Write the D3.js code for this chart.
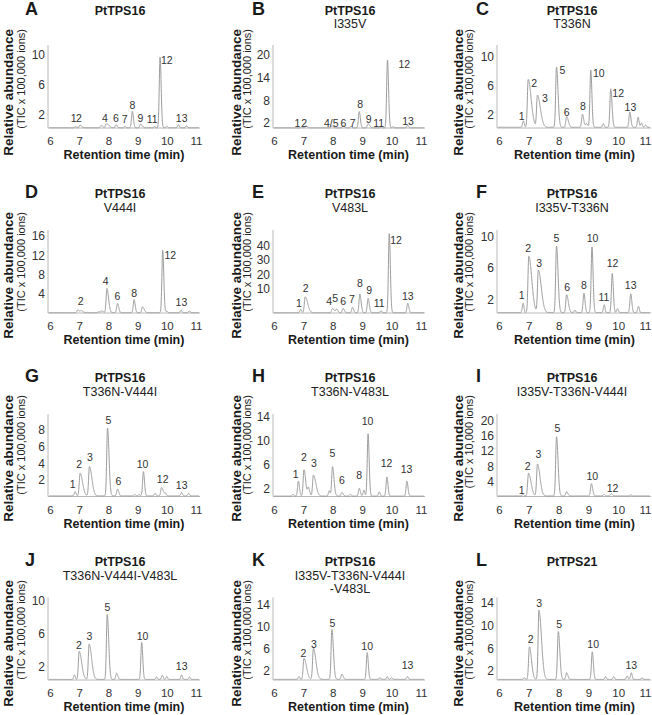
<!DOCTYPE html>
<html><head><meta charset="utf-8">
<script src="https://cdn.jsdelivr.net/npm/d3@7"></script>
<style>
body{margin:0;background:#fff;}
svg text{font-family:"Liberation Sans",Arial,Helvetica,sans-serif;}
</style></head><body>
<svg id="chart" width="652" height="715"></svg>
<script>
// ---------------- DATA ----------------
const panelLetters = ["A","B","C","D","E","F","G","H","I","J","K","L"];
const panelTitles = ["PtTPS16","PtTPS16","PtTPS16","PtTPS16","PtTPS16","PtTPS16","PtTPS16","PtTPS16","PtTPS16","PtTPS16","PtTPS16","PtTPS21"];
const panelSubtitles = [[],["I335V"],["T336N"],["V444I"],["V483L"],["I335V-T336N"],["T336N-V444I"],["T336N-V483L"],["I335V-T336N-V444I"],["T336N-V444I-V483L"],["I335V-T336N-V444I","-V483L"],[]];
const yTitle = "Relative abundance";
const yUnits = ["(TIC x 100,000 ions)","(TIC x 100,000 ions)","(TIC x 100,000 ions)","(TIC x 100,000 ions)","(TIC x 100,000 ions)","(TIC x 100,000 ions)","(TIC x 100,000 ions)","(TIC x 100,000 ions)","(TIC x 10,000 ions)","(TIC x 100,000 ions)","(TIC x 100,000 ions)","(TIC x 100,000 ions)"];
const xTitle = "Retention time (min)";
const xDomain = [6, 11];
const xTicks = [6, 7, 8, 9, 10, 11];
const yTicks = [[2,6,10],[2,8,14,20],[2,6,10],[4,8,12,16],[10,20,30,40],[2,6,10],[2,4,6,8],[2,6,10,14],[4,8,12,16,20],[2,6,10],[2,6,10,14],[2,6,10,14]];
const yDomains = [[0.27,11.3],[0.66,22.6],[0.2,11.65],[0.08,17.2],[-7.5,51.3],[0.25,10.85],[0.02,9.9],[0.63,14.4],[0.16,21.6],[0.38,10.4],[0.33,15.2],[0.35,15.0]];
const baselines = [0.3,0.7,0.3,0.15,-7.3,0.3,0.1,0.7,0.3,0.45,0.45,0.45];

// peaks: [retention time (min), height above baseline, tailing factor]
const peaksA = [[6.88,0.15,1],[7.03,0.35,2],[7.75,0.3,2],[7.93,0.55,3],[8.26,0.4,1.5],[8.57,0.2,1],[8.82,2.2,1.3],[9.1,0.5,2],[9.58,0.15,1],[9.77,9.4,1.3],[10.0,0.2,1],[10.4,0.4,1],[10.68,0.25,1]];
const peaksB = [[6.95,0.3,1],[7.08,0.5,2],[7.97,0.5,2],[8.35,0.6,1.5],[8.62,0.45,1],[8.9,4.3,1.3],[9.2,1.0,2],[9.65,0.3,1],[9.86,17.9,1.3],[10.05,0.3,1],[10.55,0.7,1]];
const peaksC = [[6.82,0.9,1],[6.98,6.6,3.5],[7.29,4.4,3.5],[7.93,8.3,1.8],[8.27,1.5,2],[8.8,1.8,1.5],[8.93,0.5,1.5],[9.08,7.9,1.3],[9.5,0.5,1],[9.75,5.3,1.5],[10.39,2.1,1.3],[10.67,1.4,1],[10.78,0.6,1],[10.92,0.3,1]];
const peaksD = [[6.95,0.55,2],[7.07,0.4,2],[7.68,0.2,1],[7.78,0.4,1.5],[7.95,5.0,2],[8.31,1.9,1.5],[8.88,2.7,1.3],[9.17,1.2,2],[9.86,12.9,1.3],[10.0,0.3,1],[10.49,0.5,1],[10.77,0.35,1]];
const peaksE = [[6.91,2.4,1],[7.06,11.3,3],[7.99,3.0,2],[8.13,2.5,1.5],[8.35,3.1,1.5],[8.67,3.8,1.3],[8.92,13.3,1.5],[9.2,10.2,1.5],[9.64,1.4,1],[9.92,56,1.3],[10.55,6.7,1.3]];
const peaksF = [[6.81,1.2,1],[7.0,7.2,3.5],[7.32,5.4,3.5],[7.93,8.5,1.8],[8.27,2.3,2],[8.55,0.3,1],[8.85,2.5,1.3],[9.12,8.4,1.3],[9.53,1.0,1],[9.8,5.0,1.3],[9.98,0.5,1],[10.42,2.4,1.3],[10.68,0.8,1]];
const peaksG = [[6.86,0.5,1],[7.03,2.7,3],[7.35,3.5,3],[7.97,8.1,1.8],[8.31,0.8,1.5],[8.9,0.15,1],[9.05,0.15,1],[9.2,2.9,1.3],[9.6,0.3,1],[9.82,1.0,2],[9.95,0.3,1],[10.51,0.4,1],[10.75,0.3,1]];
const peaksH = [[6.65,0.3,1],[6.83,2.5,1.3],[7.02,4.4,2],[7.17,1.4,1.5],[7.34,3.5,3],[7.88,0.9,1],[7.99,4.9,1.8],[8.31,0.6,1.5],[8.6,0.3,1],[8.9,1.3,1.3],[9.06,1.0,1],[9.2,10.4,1.3],[9.58,0.7,1],[9.84,3.2,1.3],[10.52,2.5,1.3]];
const peaksI = [[6.81,0.4,1],[6.99,5.9,3],[7.29,8.3,3],[7.93,15.4,1.8],[8.27,1.1,1.5],[9.1,3.2,1.5],[9.53,0.4,1],[9.77,0.6,1.5],[10.42,0.3,1]];
const peaksJ = [[6.84,0.55,1],[7.0,3.4,3],[7.34,4.3,3],[7.96,7.9,1.8],[8.28,0.75,1.5],[9.14,4.5,1.3],[9.65,0.3,1],[9.85,0.5,1],[10.0,0.35,1],[10.51,0.55,1],[10.78,0.3,1]];
const peaksK = [[6.85,0.5,1],[7.02,3.8,3],[7.34,5.6,3],[7.97,9.0,1.8],[8.31,0.95,1.5],[9.17,4.8,1.3],[9.6,0.3,1],[9.85,0.5,1],[10.0,0.3,1],[10.54,0.5,1]];
const peaksL = [[6.85,0.3,1],[7.02,5.8,2.5],[7.34,12.3,3],[7.99,8.5,1.8],[8.27,1.2,1.5],[9.13,4.9,1.3],[9.58,0.5,1],[9.85,0.5,1],[10.3,0.6,1],[10.44,1.2,1],[10.8,0.3,1]];

// peak labels: [text, retention time, abundance]
const labelsA = [["1",6.81,1.1],["2",6.99,1.1],["4",7.88,1.1],["6",8.26,1.1],["7",8.56,0.9],["8",8.82,2.75],["9",9.1,1.1],["11",9.5,0.9],["12",10.0,8.8],["13",10.51,1.1]];
const labelsB = [["1",6.8,1.0],["2",7.03,1.0],["4/5",7.95,1.0],["6",8.36,1.0],["7",8.68,1.0],["8",8.93,5.9],["9",9.22,2.1],["11",9.56,1.0],["12",10.43,16.5],["13",10.56,1.5]];
const labelsC = [["1",6.76,1.3],["2",7.18,5.8],["3",7.54,3.8],["5",8.13,7.65],["6",8.27,1.9],["8",8.82,2.7],["10",9.35,7.2],["12",10.0,4.5],["13",10.41,2.55]];
const labelsD = [["2",7.05,1.7],["4",7.91,5.9],["6",8.31,2.8],["8",8.88,3.45],["12",10.12,11.2],["13",10.5,1.5]];
const labelsE = [["1",6.85,-3.5],["2",7.08,7.6],["4",7.88,-1.8],["5",8.08,0.5],["6",8.35,-1.8],["7",8.65,-0.6],["8",8.92,10.7],["9",9.24,6],["11",9.58,-3.0],["12",10.15,41.4],["13",10.55,1.7]];
const labelsF = [["1",6.76,2.0],["2",6.98,8.1],["3",7.35,6.1],["5",7.93,9.35],["6",8.29,3.1],["8",8.85,3.3],["10",9.14,9.35],["11",9.52,1.8],["12",9.81,6.1],["13",10.42,3.3]];
const labelsG = [["1",6.78,1.0],["2",7.0,3.4],["3",7.37,4.3],["5",8.0,8.7],["6",8.34,1.4],["10",9.17,3.4],["12",9.86,1.6],["13",10.51,0.9]];
const labelsH = [["1",6.74,3.8],["2",7.02,6.6],["3",7.36,5.5],["5",7.99,7.2],["6",8.31,2.7],["8",8.9,3.5],["10",9.18,12.6],["12",9.83,5.5],["13",10.51,4.6]];
const labelsI = [["1",6.76,0.8],["2",6.96,7.0],["3",7.32,10.1],["5",7.96,17.0],["10",9.13,4.4],["12",9.81,1.4]];
const labelsJ = [["2",6.99,4.1],["3",7.35,5.2],["5",7.97,8.8],["10",9.17,5.2],["13",10.51,1.6]];
const labelsK = [["2",7.0,4.5],["3",7.36,6.1],["5",7.99,9.8],["10",9.17,5.7],["13",10.54,2.25]];
const labelsL = [["2",7.06,7.0],["3",7.35,13.3],["5",8.02,9.5],["10",9.16,6.0],["13",10.44,2.25]];

const allPeaks = [peaksA,peaksB,peaksC,peaksD,peaksE,peaksF,peaksG,peaksH,peaksI,peaksJ,peaksK,peaksL];
const allLabels = [labelsA,labelsB,labelsC,labelsD,labelsE,labelsF,labelsG,labelsH,labelsI,labelsJ,labelsK,labelsL];

// ---------------- LAYOUT ----------------
const cols = [
  {axisX:48,  x6:50,  x11:196, end:200, center:120, letterX:25,  boldX:13,  regX:25, lastDx:0},
  {axisX:273, x6:274, x11:421, end:425, center:350, letterX:252, boldX:241, regX:251, lastDx:0},
  {axisX:497, x6:499, x11:648, end:651, center:572, letterX:476, boldX:463, regX:473, lastDx:-3}
];
const rows = [
  {bottom:128,   top:45,    title:15,  sub:28,  ylab:29},
  {bottom:313,   top:230,   title:198, sub:212, ylab:212},
  {bottom:496.5, top:414,   title:382, sub:396, ylab:395},
  {bottom:680,   top:597.5, title:566, sub:580, ylab:580}
];
const AXIS_COLOR = "#b8b8b8", TRACE_COLOR = "#9c9c9c", TEXT = "#1a1a1a";
const SIGMA = 0.028;

const svg = d3.select("#chart");

panelLetters.forEach((letter, i) => {
  const c = cols[i % 3], r = rows[Math.floor(i / 3)];
  const x = d3.scaleLinear().domain(xDomain).range([c.x6, c.x11]);
  const y = d3.scaleLinear().domain(yDomains[i]).range([r.bottom, r.top]);
  const g = svg.append("g");

  // axis lines
  g.append("line").attr("x1", c.axisX).attr("x2", c.end).attr("y1", r.bottom).attr("y2", r.bottom)
    .attr("stroke", AXIS_COLOR).attr("stroke-width", 1);
  g.append("line").attr("x1", c.axisX).attr("x2", c.axisX).attr("y1", r.bottom).attr("y2", r.top)
    .attr("stroke", AXIS_COLOR).attr("stroke-width", 1);

  // tick labels via d3 axes
  const xa = g.append("g").attr("transform", `translate(0,${r.bottom})`)
    .call(d3.axisBottom(x).tickValues(xTicks).tickSize(0).tickPadding(9).tickFormat(d3.format("d")));
  xa.select(".domain").remove();
  xa.selectAll("text").attr("font-size", 11.5).attr("fill", "#333")
    .attr("dx", d => d === xTicks[xTicks.length - 1] ? c.lastDx : 0);
  const ya = g.append("g").attr("transform", `translate(${c.axisX},0)`)
    .call(d3.axisLeft(y).tickValues(yTicks[i]).tickSize(0).tickPadding(3).tickFormat(d3.format("d")));
  ya.select(".domain").remove();
  ya.selectAll("text").attr("font-size", 12).attr("fill", "#333");

  // chromatogram trace
  const pk = allPeaks[i];
  const signal = t => baselines[i] + d3.sum(pk, p => {
    const dt = t - p[0];
    const s = dt < 0 ? SIGMA : SIGMA * p[2];
    return p[1] * Math.exp(-0.5 * dt * dt / (s * s));
  });
  const ts = d3.range(x.invert(c.axisX + 1), x.invert(c.end - 1), 0.004);
  g.append("path").datum(ts)
    .attr("d", d3.line().x(t => x(t)).y(t => y(Math.max(yDomains[i][0], signal(t)))))
    .attr("fill", "none").attr("stroke", TRACE_COLOR).attr("stroke-width", 1);

  // peak labels
  g.selectAll("text.pk").data(allLabels[i]).join("text").attr("class", "pk")
    .attr("x", d => x(d[1])).attr("y", d => y(d[2]))
    .attr("text-anchor", "middle").attr("font-size", 10.5).attr("fill", "#333")
    .text(d => d[0]);

  // panel letter
  g.append("text").attr("x", c.letterX).attr("y", r.title)
    .attr("font-size", 18).attr("font-weight", "bold").attr("fill", TEXT).text(letter);
  // titles
  g.append("text").attr("x", c.center).attr("y", r.title).attr("text-anchor", "middle")
    .attr("font-size", 12.5).attr("font-weight", "bold").attr("fill", TEXT).text(panelTitles[i]);
  panelSubtitles[i].forEach((s, k) => {
    g.append("text").attr("x", c.center).attr("y", r.sub + k * 13).attr("text-anchor", "middle")
      .attr("font-size", 12.5).attr("fill", "#222").text(s);
  });

  // axis titles
  g.append("text").attr("x", (c.x6 + c.x11) / 2 + 1).attr("y", r.bottom + 31).attr("text-anchor", "middle")
    .attr("font-size", 12.5).attr("font-weight", "bold").attr("fill", TEXT).text(xTitle);
  g.append("text").attr("transform", `translate(${c.boldX},${r.ylab}) rotate(-90)`).attr("text-anchor", "end")
    .attr("font-size", 13.5).attr("font-weight", "bold").attr("fill", TEXT).text(yTitle);
  g.append("text").attr("transform", `translate(${c.regX},${r.ylab}) rotate(-90)`).attr("text-anchor", "end")
    .attr("font-size", 11).attr("fill", "#222").text(yUnits[i]);
});
</script>
</body></html>
